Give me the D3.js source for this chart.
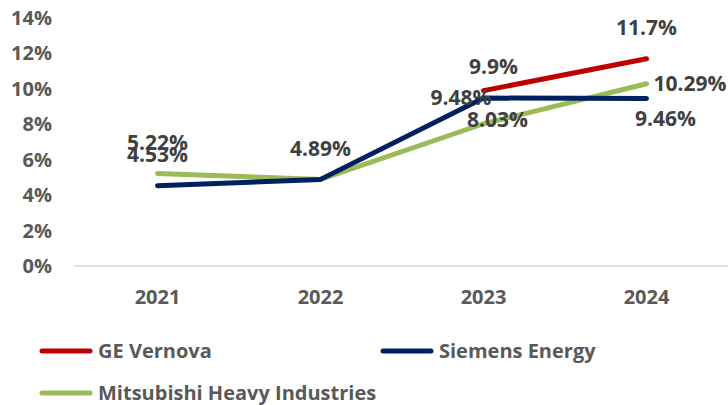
<!DOCTYPE html>
<html>
<head>
<meta charset="utf-8">
<script src="https://cdn.jsdelivr.net/npm/d3@7"></script>
<style>
  body { margin: 0; background: #fff; }
  svg { display: block; font-family: "Open Sans", sans-serif; font-weight: bold; }
</style>
</head>
<body>
<svg id="chart" width="728" height="405"></svg>
<script>
// data
var years = ["2021", "2022", "2023", "2024"];
var seriesNames = ["GE Vernova", "Siemens Energy", "Mitsubishi Heavy Industries"];
var geVernova = [null, null, 9.9, 11.7];
var siemensEnergy = [4.53, 4.89, 9.48, 9.46];
var mitsubishi = [5.22, 4.89, 8.03, 10.29];
var geLabels = [null, null, "9.9%", "11.7%"];
var siemensLabels = ["4.53%", "4.89%", "9.48%", "9.46%"];
var mitsubishiLabels = ["5.22%", null, "8.03%", "10.29%"];
var yTicks = [0, 2, 4, 6, 8, 10, 12, 14];

var colors = ["#C00000", "#002060", "#9BBB59"];
// where each label sits relative to its point
var placements = [
    [null, null, "above", "above"],
    ["above", "above", "left", "below"],
    ["above", null, "belowright", "right"]
];

var series = [
    { name: seriesNames[0], values: geVernova, labels: geLabels },
    { name: seriesNames[1], values: siemensEnergy, labels: siemensLabels },
    { name: seriesNames[2], values: mitsubishi, labels: mitsubishiLabels }
];

var width = 728;
var margin = { top: 18, right: 0, bottom: 139, left: 76 };
var height = 405;

var x = d3.scalePoint()
    .domain(years)
    .range([margin.left, width - margin.right])
    .padding(0.5);

var y = d3.scaleLinear()
    .domain([0, 14])
    .range([height - margin.bottom, margin.top]);

var svg = d3.select("#chart");

// y axis labels
svg.append("g")
    .selectAll("text")
    .data(yTicks)
    .join("text")
    .attr("x", 52)
    .attr("y", d => y(d))
    .attr("dy", "0.35em")
    .attr("text-anchor", "end")
    .attr("fill", "#595959")
    .attr("font-size", "20px")
    .text(d => d + "%");

// baseline
svg.append("line")
    .attr("x1", 74)
    .attr("x2", width)
    .attr("y1", y(0))
    .attr("y2", y(0))
    .attr("stroke", "#d9d9d9")
    .attr("stroke-width", 1.5);

// x axis labels
svg.append("g")
    .selectAll("text")
    .data(years)
    .join("text")
    .attr("x", d => x(d))
    .attr("y", 297)
    .attr("dy", "0.35em")
    .attr("text-anchor", "middle")
    .attr("fill", "#595959")
    .attr("font-size", "20px")
    .text(d => d);

var line = d3.line()
    .defined(d => d.v != null)
    .x(d => x(d.year))
    .y(d => y(d.v));

// draw green first, then navy, then red on top
[2, 1, 0].forEach(i => {
    var s = series[i];
    var pts = years.map((yr, j) => ({ year: yr, v: s.values[j] }));
    svg.append("path")
        .datum(pts)
        .attr("fill", "none")
        .attr("stroke", colors[i])
        .attr("stroke-width", 5)
        .attr("stroke-linecap", "round")
        .attr("stroke-linejoin", "round")
        .attr("d", line);
});

// data labels
series.forEach((s, i) => {
    years.forEach((yr, j) => {
        var txt = s.labels[j];
        if (!txt) return;
        var px = x(yr), py = y(s.values[j]);
        var p = placements[i][j];
        var tx = px, ty = py, anchor = "middle";
        if (p === "above") { ty = py - 31; }
        if (p === "below") { ty = py + 20; tx = px + 19; }
        if (p === "left") { tx = px + 8; anchor = "end"; }
        if (p === "right") { tx = px + 7; anchor = "start"; }
        if (p === "belowright") { tx = px + 14; ty = py - 4; }
        if (i === 0 && j === 2) { tx = px + 10; ty = py - 24; }
        svg.append("text")
            .attr("x", tx)
            .attr("y", ty)
            .attr("dy", "0.35em")
            .attr("text-anchor", anchor)
            .attr("fill", "#404040")
            .attr("font-size", "21px")
            .text(txt);
    });
});

// legend
var legendPos = [[42, 351], [383, 351], [42, 393]];
var legend = svg.append("g")
    .selectAll("g")
    .data(series)
    .join("g")
    .attr("transform", (d, i) => `translate(${legendPos[i][0]},${legendPos[i][1]})`);

legend.append("line")
    .attr("x1", 0)
    .attr("x2", 48)
    .attr("stroke", (d, i) => colors[i])
    .attr("stroke-width", 5)
    .attr("stroke-linecap", "round");

legend.append("text")
    .attr("x", 56)
    .attr("dy", "0.35em")
    .attr("fill", "#595959")
    .attr("font-size", "20px")
    .text(d => d.name);
</script>
</body>
</html>
